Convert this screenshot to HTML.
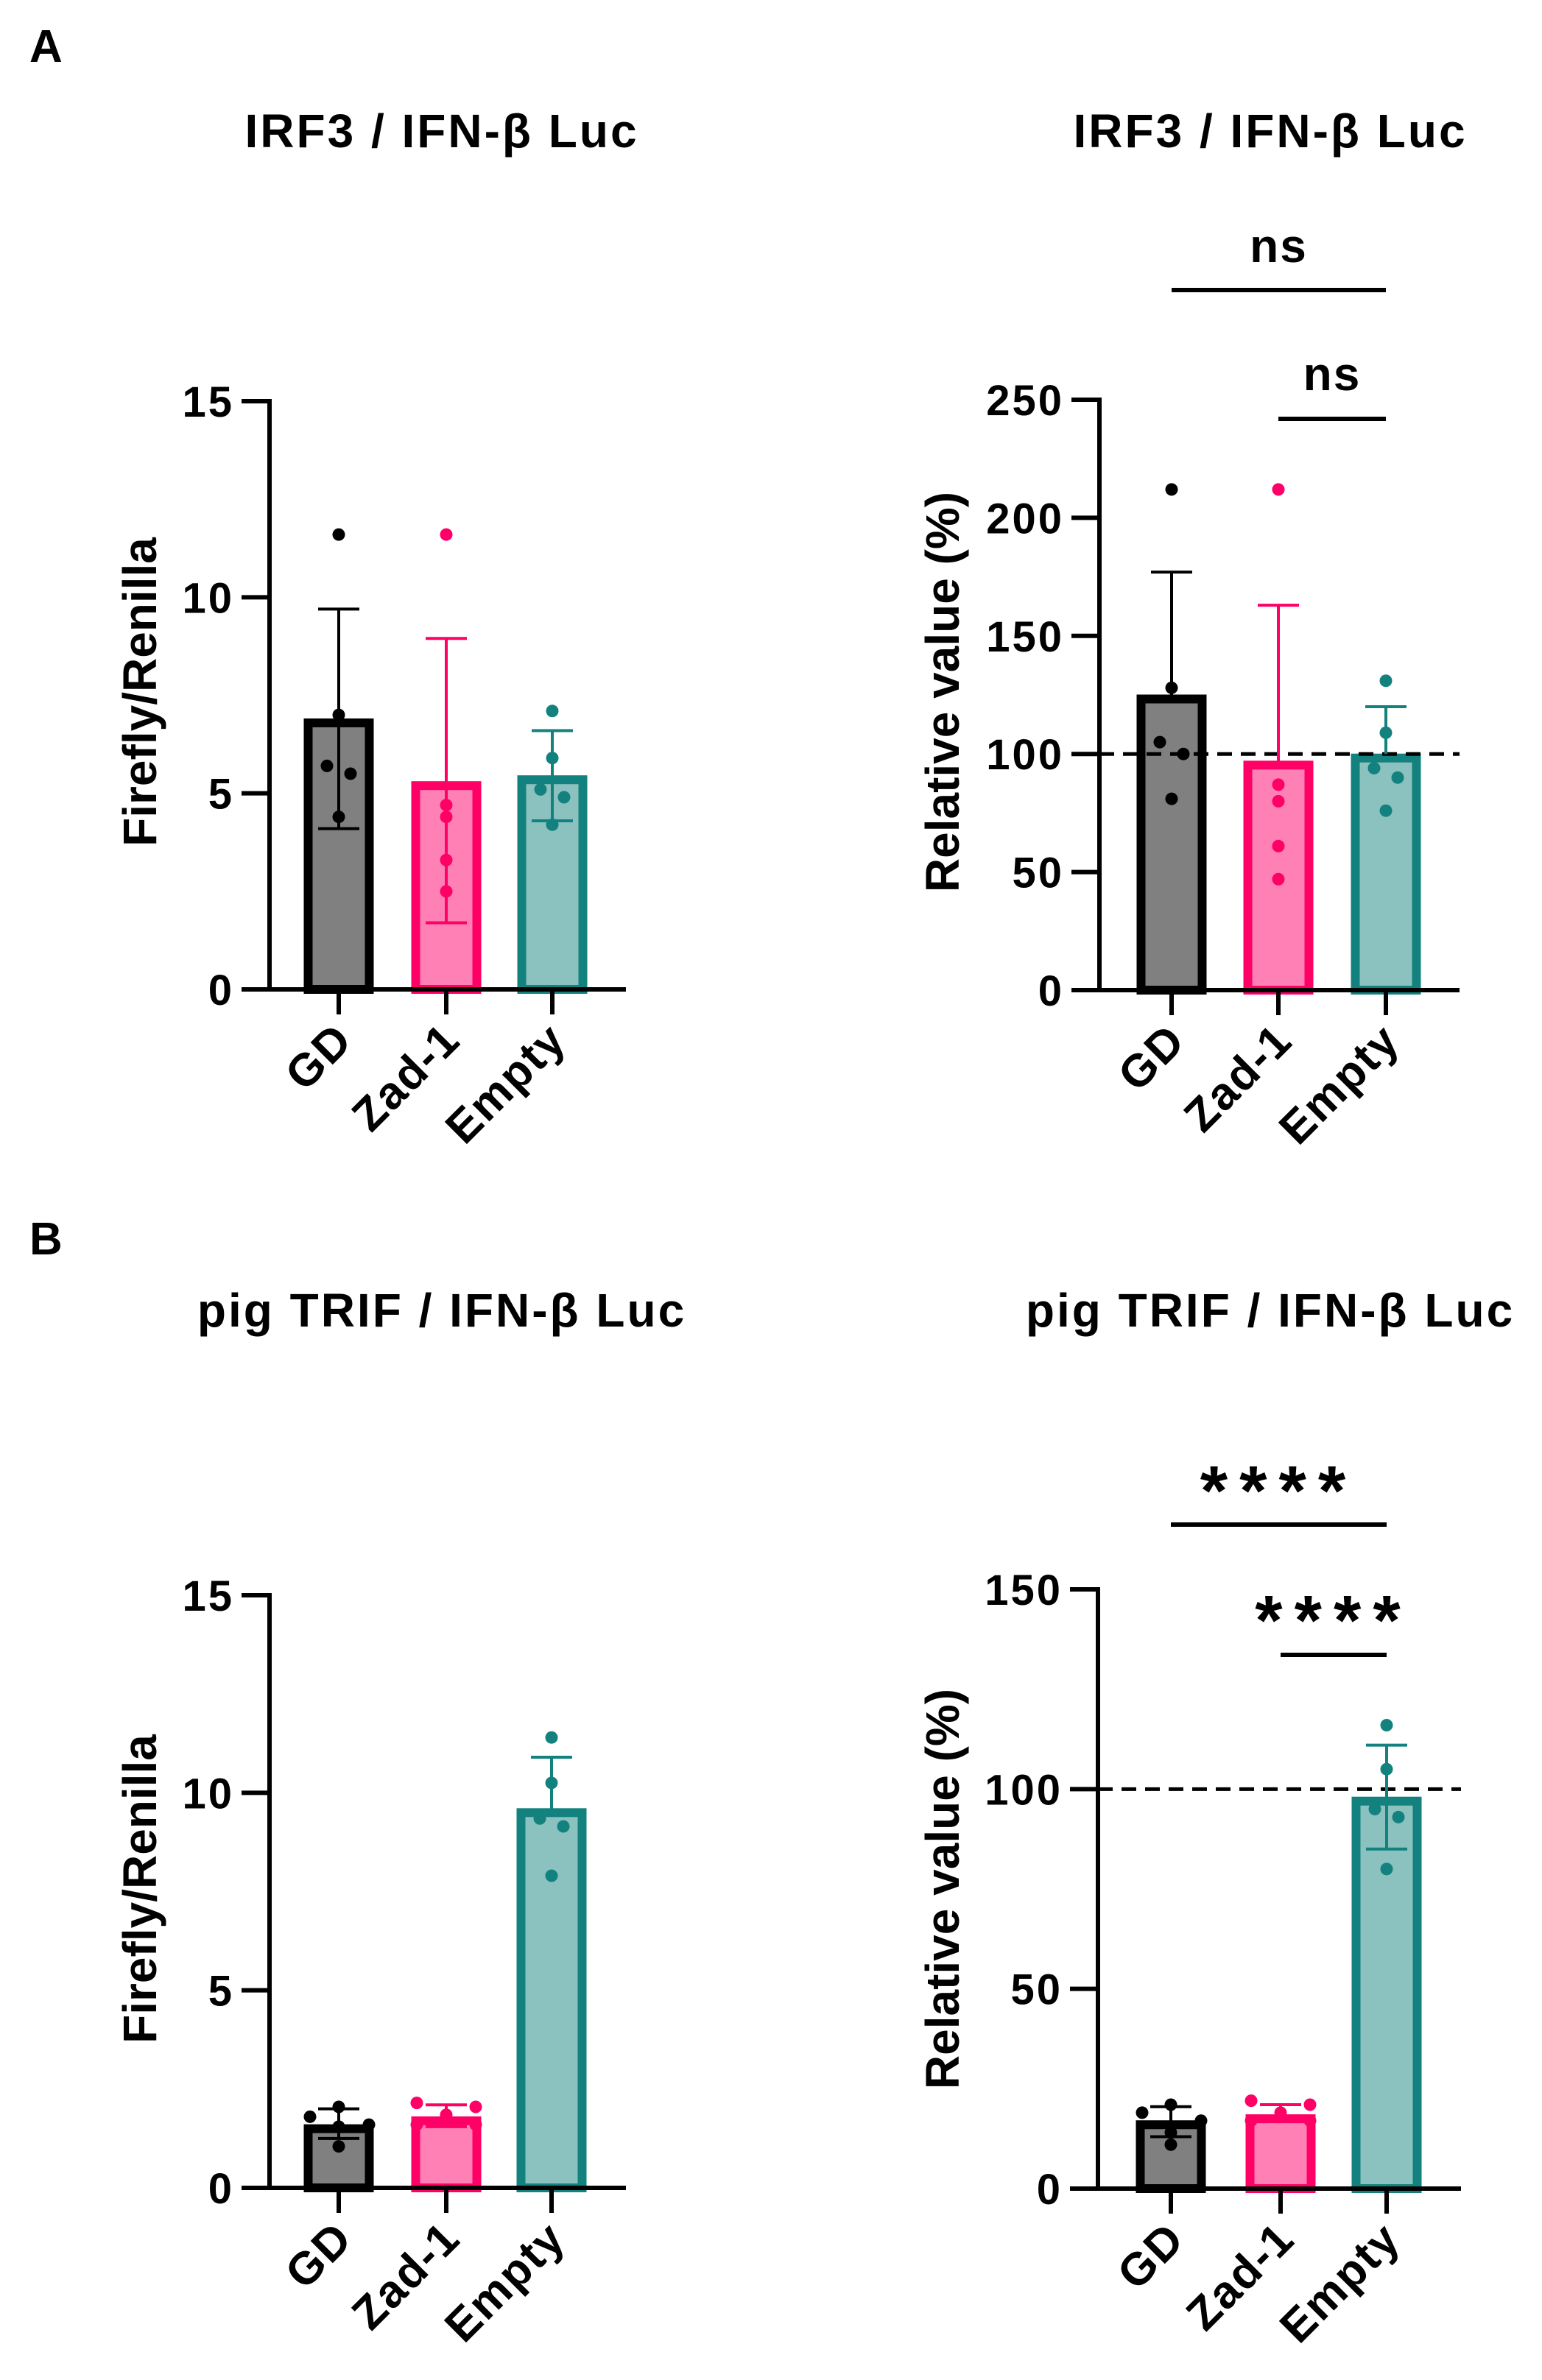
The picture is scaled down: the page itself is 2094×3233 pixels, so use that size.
<!DOCTYPE html>
<html><head><meta charset="utf-8">
<style>
html,body{margin:0;padding:0;background:#fff;}
svg{display:block;font-family:"Liberation Sans",Arial,sans-serif;font-weight:bold;}
</style></head>
<body>
<svg id="fig" width="2094" height="3233" viewBox="0 0 2094 3233" xmlns="http://www.w3.org/2000/svg">
<text x="40" y="84" font-size="62">A</text>
<text x="40" y="1704" font-size="62">B</text>
</svg>
<script>
const categories = ["GD","Zad-1","Empty"];
// Panel A left (Firefly/Renilla)
const aLeftMeans = [6.9, 5.3, 5.45];
const aLeftErrHi = [9.7, 8.95, 6.6];
const aLeftErrLo = [4.1, 1.7, 4.3];
const aLeftPoints = [[11.6,7.0,5.7,5.5,4.4],[11.6,4.7,4.4,3.3,2.5],[7.1,5.9,5.1,4.9,4.2]];
const aLeftTicks = [0,5,10,15];
// Panel A right (Relative value %)
const aRightMeans = [125, 97, 100];
const aRightErrHi = [177, 163, 120];
const aRightErrLo = [null, null, null];
const aRightPoints = [[212,128,105,100,81],[212,87,80,61,47],[131,109,94,90,76]];
const aRightTicks = [0,50,100,150,200,250];
// Panel B left
const bLeftMeans = [1.6, 1.8, 9.6];
const bLeftErrHi = [2.0, 2.1, 10.9];
const bLeftErrLo = [1.25, 1.55, null];
const bLeftPoints = [[2.05,1.8,1.6,1.55,1.05],[2.15,2.05,1.85,1.6,1.6],[11.4,10.25,9.35,9.15,7.9]];
const bLeftTicks = [0,5,10,15];
// Panel B right
const bRightMeans = [17, 18.5, 98];
const bRightErrHi = [20.5, 21, 111];
const bRightErrLo = [13, null, 85];
const bRightPoints = [[21,19,17,14,11],[22,21,19,17,17],[116,105,95,93,80]];
const bRightTicks = [0,50,100,150];

const fills = ["#808080","#ff80b5","#8bc1bf"];
const strokes = ["#000000","#ff0066","#13827e"];
const NS = "http://www.w3.org/2000/svg";
const svg = document.getElementById("fig");

function mk(tag, attrs, parent){
  const e = document.createElementNS(NS, tag);
  for (const k in attrs) e.setAttribute(k, attrs[k]);
  (parent||svg).appendChild(e);
  return e;
}

function panel(cfg){
  const g = mk("g", {});
  
  
  const y = v => cfg.y0 - (v - 0) / cfg.max * (cfg.y0 - cfg.yTop);
  const x = i => cfg.cx[i];
  const t = mk("text", {x: cfg.titleX, y: cfg.titleY, "font-size": 64, "letter-spacing": 3, "text-anchor": "middle"}, g);
  t.textContent = cfg.title;
  
  
  const yt = mk("text", {transform: `translate(${cfg.yTitleX},${cfg.yTitleY}) rotate(-90)`, "font-size": 64, "text-anchor": "middle"}, g);
  yt.textContent = cfg.yTitle;
  
  
  for (let i = 0; i < 3; i++){
    const hv = y(cfg.means[i]);
    const r = mk("rect", {x: x(i) - 41.5, y: hv + 5.5, width: 83, height: Math.max(0, cfg.y0 - hv - 5.5), fill: fills[i], stroke: strokes[i], "stroke-width": 12}, g);
    
    
  }
  if (cfg.refLine != null){
    const l = mk("line", {x1: cfg.axisX, x2: cfg.axisEnd, y1: y(cfg.refLine), y2: y(cfg.refLine), stroke: "#000", "stroke-width": 5, "stroke-dasharray": "20 12"}, g);
    
    
  }
  for (let i = 0; i < 3; i++){
    const eg = mk("g", {stroke: strokes[i], "stroke-width": 4}, g);
    
    
    const m = y(cfg.means[i]);
    if (cfg.hi[i] != null){
      mk("line", {x1: x(i), x2: x(i), y1: m, y2: y(cfg.hi[i])}, eg);
      mk("line", {x1: x(i) - 28, x2: x(i) + 28, y1: y(cfg.hi[i]), y2: y(cfg.hi[i])}, eg);
    }
    if (cfg.lo[i] != null){
      mk("line", {x1: x(i), x2: x(i), y1: m, y2: y(cfg.lo[i])}, eg);
      mk("line", {x1: x(i) - 28, x2: x(i) + 28, y1: y(cfg.lo[i]), y2: y(cfg.lo[i])}, eg);
    }
  }
  for (let i = 0; i < 3; i++){
    cfg.points[i].forEach((v, j) => {
      const c = mk("circle", {cx: x(i) + cfg.jitter[i][j], cy: y(v), r: 8.5, fill: strokes[i]}, g);
      
      
    });
  }
  const ax = mk("g", {stroke: "#000", "stroke-width": 6}, g);
  
  
  mk("line", {x1: cfg.axisX, x2: cfg.axisX, y1: cfg.yTop - 3, y2: cfg.y0 + 3}, ax);
  mk("line", {x1: cfg.axisX - 38, x2: cfg.axisEnd, y1: cfg.y0, y2: cfg.y0}, ax);
  cfg.ticks.forEach(tv => {
    mk("line", {x1: cfg.axisX - 38, x2: cfg.axisX, y1: y(tv), y2: y(tv)}, ax);
    const tl = mk("text", {x: cfg.axisX - 48, y: y(tv) + 21, "font-size": 58, "letter-spacing": 3, "text-anchor": "end", stroke: "none"}, g);
    tl.textContent = tv;
    
    
  });
  for (let i = 0; i < 3; i++){
    mk("line", {x1: x(i), x2: x(i), y1: cfg.y0, y2: cfg.y0 + 34}, ax);
    const cl = mk("text", {transform: `translate(${x(i) + 22},${cfg.y0 + 72}) rotate(-45)`, "font-size": 62, "letter-spacing": 2, "text-anchor": "end"}, g);
    cl.textContent = categories[i];
    
    
  }
  (cfg.sig || []).forEach(s => {
    const sl = mk("line", {x1: x(s.a), x2: x(s.b), y1: s.y, y2: s.y, stroke: "#000", "stroke-width": 6}, g);
    
    
    const st = mk("text", {x: (x(s.a) + x(s.b)) / 2, y: s.ty, "font-size": s.fs, "text-anchor": "middle", "letter-spacing": s.ls || 0}, g);
    st.textContent = s.label;
    
    
  });
}

const j5 = [[0,0,-16,16,0],[0,0,0,0,0],[0,0,-16,16,0]];
panel({name:"chart-a-left", title:"IRF3 / IFN-β Luc", titleX:600, titleY:200, yTitle:"Firefly/Renilla", yTitleX:212, yTitleY:940,
  axisX:366, axisEnd:850, y0:1344, yTop:545, max:15, cx:[460,606,750], ticks:aLeftTicks,
  means:aLeftMeans, hi:aLeftErrHi, lo:aLeftErrLo, points:aLeftPoints, jitter:j5});
panel({name:"chart-a-right", title:"IRF3 / IFN-β Luc", titleX:1725, titleY:200, yTitle:"Relative value (%)", yTitleX:1302, yTitleY:940,
  axisX:1493, axisEnd:1982, y0:1345, yTop:543, max:250, cx:[1591,1736,1882], ticks:aRightTicks,
  means:aRightMeans, hi:aRightErrHi, lo:aRightErrLo, points:aRightPoints, jitter:j5, refLine:100,
  sig:[{a:0,b:2,y:394,ty:356,label:"ns",fs:64,ls:2},{a:1,b:2,y:569,ty:530,label:"ns",fs:64,ls:2}]});
panel({name:"chart-b-left", title:"pig TRIF / IFN-β Luc", titleX:600, titleY:1802, yTitle:"Firefly/Renilla", yTitleX:212, yTitleY:2566,
  axisX:366, axisEnd:850, y0:2972, yTop:2167, max:15, cx:[460,606,749], ticks:bLeftTicks,
  means:bLeftMeans, hi:bLeftErrHi, lo:bLeftErrLo, points:bLeftPoints, jitter:[[0,-39,41,0,0],[-40,40,0,-40,40],[0,0,-16,16,0]]});
panel({name:"chart-b-right", title:"pig TRIF / IFN-β Luc", titleX:1725, titleY:1802, yTitle:"Relative value (%)", yTitleX:1302, yTitleY:2566,
  axisX:1491, axisEnd:1984, y0:2973, yTop:2159, max:150, cx:[1590,1739,1883], ticks:bRightTicks,
  means:bRightMeans, hi:bRightErrHi, lo:bRightErrLo, points:bRightPoints, jitter:[[0,-39,41,0,0],[-40,40,0,-40,40],[0,0,-16,16,0]], refLine:100,
  sig:[{a:0,b:2,y:2071,ty:2058,label:"****",fs:96,ls:16},{a:1,b:2,y:2248,ty:2234,label:"****",fs:96,ls:16}]});
</script>
</body></html>
